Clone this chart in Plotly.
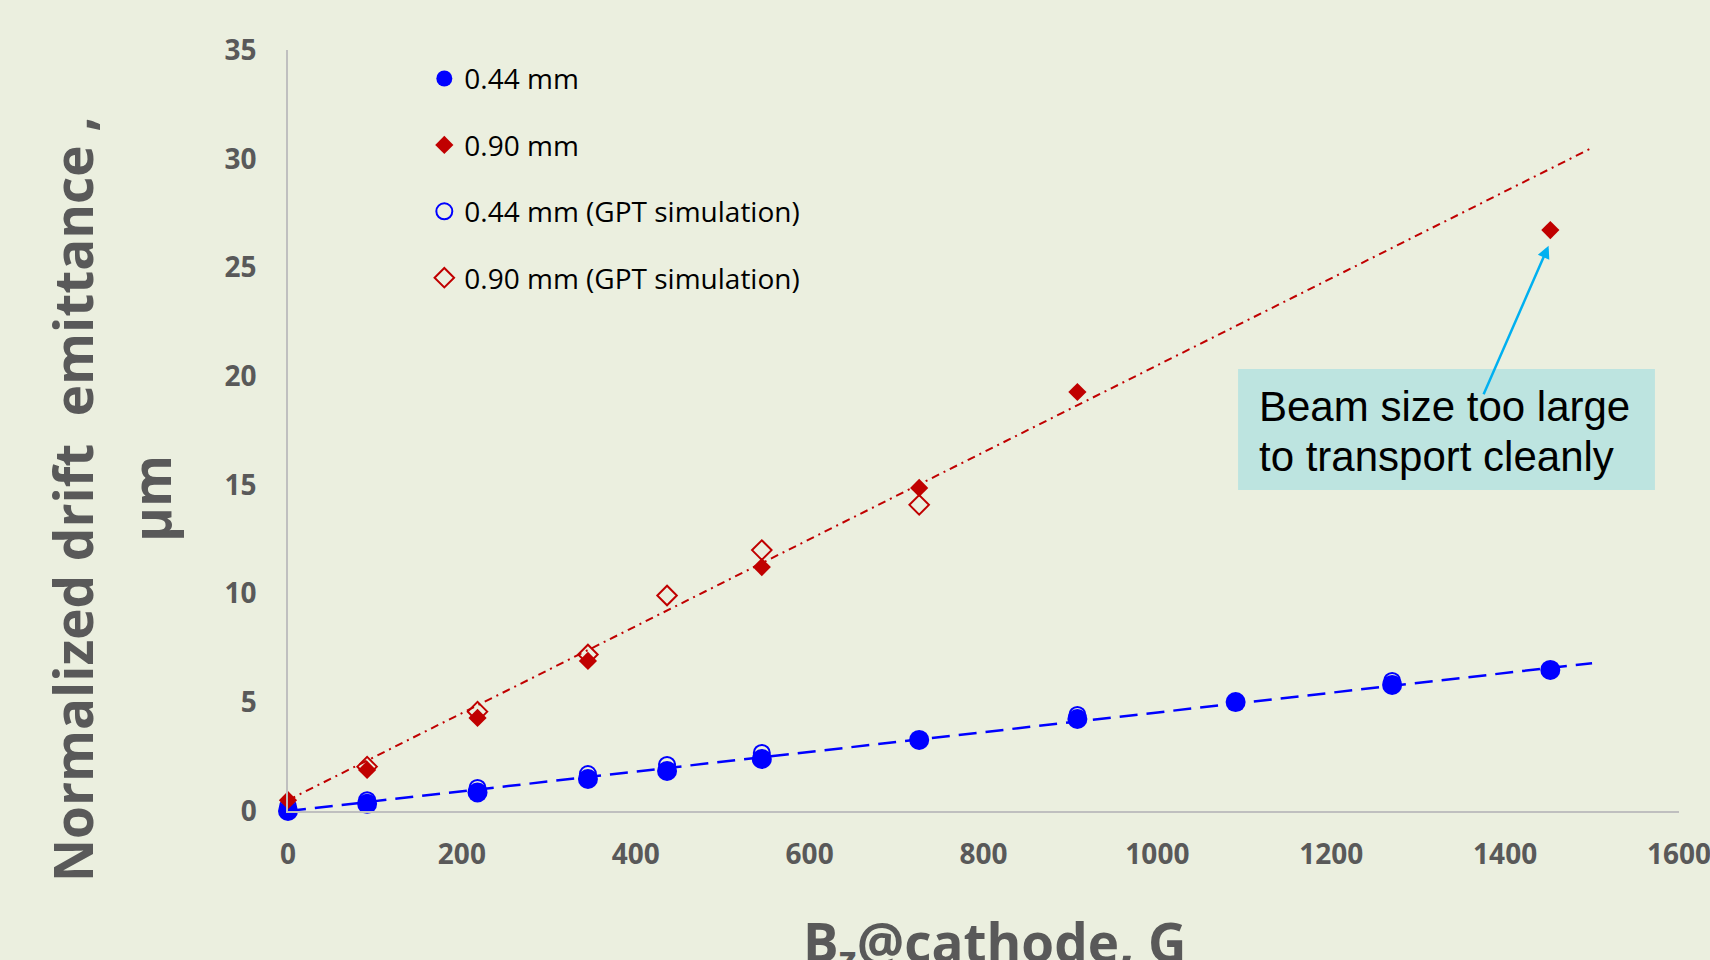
import plotly.graph_objects as go

# ---- data ----
b_filled_044 = [0, 91, 218, 345, 436, 545, 726, 908, 1090, 1270, 1452]
e_filled_044 = [0.0, 0.33, 0.85, 1.47, 1.84, 2.39, 3.27, 4.23, 5.01, 5.80, 6.49]

b_filled_090 = [0, 91, 218, 345, 545, 726, 908, 1452]
e_filled_090 = [0.5, 1.89, 4.28, 6.9, 11.22, 14.86, 19.27, 26.72]

b_gpt_044 = [0, 91, 218, 345, 436, 545, 908, 1270]
e_gpt_044 = [0.2, 0.5, 1.06, 1.7, 2.12, 2.67, 4.42, 5.98]

b_gpt_090 = [91, 218, 345, 436, 545, 726]
e_gpt_090 = [2.04, 4.57, 7.2, 9.91, 12.0, 14.08]

trend_x = [0, 1500]
trend_044 = [0.0, 6.8]
trend_090 = [0.5, 30.5]

x_ticks = [0, 200, 400, 600, 800, 1000, 1200, 1400, 1600]
y_ticks = [0, 5, 10, 15, 20, 25, 30, 35]

BG = "#EBEFDF"
BLUE = "#0000FF"
RED = "#C00000"
GREY = "#595959"

fig = go.Figure()

# trend lines
fig.add_trace(go.Scatter(x=trend_x, y=trend_044, mode="lines", showlegend=False,
                         line=dict(color=BLUE, width=2.5, dash="18px,9px"), hoverinfo="skip"))
fig.add_trace(go.Scatter(x=trend_x, y=trend_090, mode="lines", showlegend=False,
                         line=dict(color=RED, width=2, dash="8px,5px,2px,5px"), hoverinfo="skip"))

# open markers (GPT simulation)
fig.add_trace(go.Scatter(x=b_gpt_044, y=e_gpt_044, mode="markers", name="0.44 mm (GPT simulation)",
                         legendgroup="c", legendrank=3, cliponaxis=False,
                         marker=dict(symbol="circle-open", size=16, color=BLUE, line=dict(width=2))))
fig.add_trace(go.Scatter(x=b_gpt_090, y=e_gpt_090, mode="markers", name="0.90 mm (GPT simulation)",
                         legendgroup="d", legendrank=4, cliponaxis=False,
                         marker=dict(symbol="diamond-open", size=15, color=RED, line=dict(width=2))))
# filled markers (measurements)
fig.add_trace(go.Scatter(x=b_filled_044, y=e_filled_044, mode="markers", name="0.44 mm",
                         legendgroup="a", legendrank=1, cliponaxis=False,
                         marker=dict(symbol="circle", size=20, color=BLUE)))
fig.add_trace(go.Scatter(x=b_filled_090, y=e_filled_090, mode="markers", name="0.90 mm",
                         legendgroup="b", legendrank=2, cliponaxis=False,
                         marker=dict(symbol="diamond", size=14, color=RED)))

tickfont = dict(family="Open Sans", size=28, color=GREY, weight="bold")
fig.update_xaxes(range=[0, 1600], tickvals=x_ticks, showgrid=False, zeroline=False,
                 showline=True, linecolor="#BFBFBF", linewidth=1.5, ticklabeloverflow="allow",
                 automargin=False,
                 ticks="outside", ticklen=18, tickcolor="rgba(0,0,0,0)", tickfont=tickfont)
fig.update_yaxes(range=[0, 35], tickvals=y_ticks, showgrid=False, zeroline=False,
                 showline=True, linecolor="#BFBFBF", linewidth=1.5, automargin=False,
                 ticks="outside", ticklen=24, tickcolor="rgba(0,0,0,0)", tickfont=tickfont)

title_font = dict(family="Open Sans", size=53, color=GREY, weight="bold")
note_font = dict(family="Liberation Sans", size=42, color="black")
annotations = [
    dict(text="B<sub>z</sub>@cathode, G", xref="paper", yref="paper", x=0.508, y=0,
         xanchor="center", yanchor="top", yshift=-92, showarrow=False, font=title_font),
    dict(text="Normalized drift\u00a0 emittance ,", xref="paper", yref="paper", x=0, y=0.41,
         xanchor="center", yanchor="middle", xshift=-215, textangle=-90, showarrow=False,
         font=title_font),
    dict(text="\u03bcm", xref="paper", yref="paper", x=0, y=0.41,
         xanchor="center", yanchor="middle", xshift=-137, textangle=-90, showarrow=False,
         font=title_font),
    dict(text="Beam size too large", xref="paper", yref="paper", x=0.6966, y=0.5309,
         xanchor="left", yanchor="middle", showarrow=False, font=note_font),
    dict(text="to transport cleanly", xref="paper", yref="paper", x=0.6966, y=0.4652,
         xanchor="left", yanchor="middle", showarrow=False, font=note_font),
    dict(text="", x=1450, y=26.0, ax=1374.5, ay=19.1, xref="x", yref="y", axref="x", ayref="y",
         showarrow=True, arrowhead=2, arrowsize=1, arrowwidth=2.5, arrowcolor="#00B0F0", standoff=0),
]

shapes = [
    dict(type="rect", xref="paper", yref="paper", x0=0.683, x1=0.9827, y0=0.4218, y1=0.5808,
         fillcolor="#BDE4E0", line=dict(width=0), layer="below"),
]

fig.update_layout(
    width=1710, height=960,
    margin=dict(l=288, r=31, t=50, b=149),
    paper_bgcolor=BG, plot_bgcolor=BG,
    showlegend=True,
    legend=dict(x=0.098, y=0.995, xanchor="left", yanchor="top", bgcolor="rgba(0,0,0,0)",
                traceorder="grouped", tracegroupgap=27,
                font=dict(family="Open Sans", size=28, color="black")),
    annotations=annotations,
    shapes=shapes,
)

fig.write_html("out.html", config={"displayModeBar": False},
               post_script="document.body.style.margin='0';document.body.style.overflow='hidden';")
